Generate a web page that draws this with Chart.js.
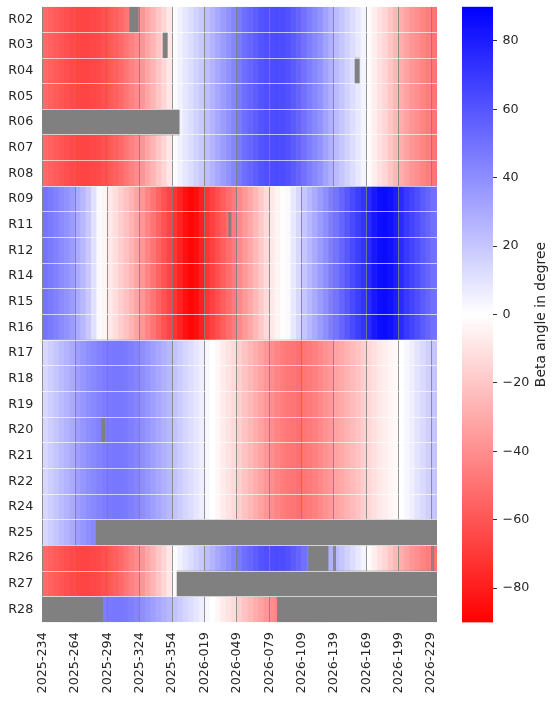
<!DOCTYPE html>
<html>
<head>
<meta charset="utf-8">
<script src="https://cdn.jsdelivr.net/npm/chart.js@4.4.1/dist/chart.umd.min.js"></script>
<style>
  body { margin: 0; background: #fff; }
  #wrap { position: relative; width: 555px; height: 703px; }
  #wrap canvas { position: absolute; left: 0; top: 0; }
</style>
</head>
<body>
<div id="wrap">
  <canvas id="heat" width="555" height="703"></canvas>
  <canvas id="cbar" width="555" height="703"></canvas>
</div>
<script>
// rows (receivers) and which beta-angle profile they follow
var rowNames = ['R02','R03','R04','R05','R06','R07','R08','R09','R11','R12','R14','R15','R16',
                'R17','R18','R19','R20','R21','R22','R24','R25','R26','R27','R28'];
var rowGroup = ['A','A','A','A','A','A','A','B','B','B','B','B','B',
                'C','C','C','C','C','C','C','C','A','A','C'];

// beta angle in degree, one value per 5 day block starting 2025-234
var groupA = [-53,-56,-58,-60,-62,-64,-65,-66,-66,-65,-64,-62,-59,-56,-53,-49,-45,-41,-37,-31,
              -26,-20,-15,-8,1,5,9,12,16,19,23,27,31,35,39,43,47,51,54,57,
              60,62,63,64,63,61,58,54,50,46,42,38,33,28,24,20,16,12,8,4,
              -1,-6,-11,-15,-20,-25,-29,-33,-37,-40,-43,-46,-49,-51];
var groupB = [49,47,44,41,38,35,30,25,19,11,2,-4,-8,-12,-17,-22,-27,-32,-37,-43,
              -49,-55,-61,-66,-72,-78,-84,-88,-85,-79,-72,-67,-62,-57,-52,-47,-42,-36,-31,-25,
              -19,-13,-8,-4,-1,2,8,14,20,25,30,35,40,45,49,54,59,64,68,72,
              76,81,85,86,84,80,75,70,66,62,58,54,50,48];
var groupC = [14,17,20,24,27,30,34,37,40,42,44,46,47,48,48,47,45,43,40,37,
              34,31,28,25,21,18,15,12,9,6,3,0,-3,-7,-10,-13,-17,-21,-25,-29,
              -33,-37,-40,-43,-46,-48,-49,-50,-49,-47,-45,-42,-39,-36,-33,-30,-27,-24,-21,-17,
              -14,-11,-8,-6,-4,-2,0,3,6,10,13,17,20,22];
var profiles = { A: groupA, B: groupB, C: groupC };
var blockDays = 5;
var totalDays = 366;

// missing data: [row, first day, end day]
var gaps = [
  ['R02', 81, 89], ['R03', 112, 116], ['R04', 290, 294], ['R06', 0, 127],
  ['R11', 173, 175], ['R20', 55, 58], ['R25', 50, 366],
  ['R26', 247, 265], ['R26', 271, 272], ['R26', 362, 363],
  ['R27', 125, 366], ['R28', 0, 56], ['R28', 218, 366]
];

var tickLabels = ['2025-234','2025-264','2025-294','2025-324','2025-354','2026-019','2026-049',
                  '2026-079','2026-109','2026-139','2026-169','2026-199','2026-229'];
var tickEvery = 30;
var cbTicks = [-80, -60, -40, -20, 0, 20, 40, 60, 80];

// matplotlib bwr, reversed so positive is blue
function bwr(v) {
    var t = Math.max(-1, Math.min(1, v / 90));
    var c;
    if (t >= 0) {
        c = Math.round(255 * (1 - t));
        return 'rgb(' + c + ',' + c + ',255)';
    }
    c = Math.round(255 * (1 + t));
    return 'rgb(255,' + c + ',' + c + ')';
}

// keep the plot box where the picture has it
function noPad(scale) {
    scale.paddingTop = 0;
    scale.paddingBottom = 0;
    scale.paddingLeft = 0;
    scale.paddingRight = 0;
}

Chart.defaults.font.family = "'DejaVu Sans', sans-serif";
Chart.defaults.font.size = 12.7;
Chart.defaults.color = '#262626';

var datasets = [];
gaps.forEach(function (g) {
    datasets.push({
        data: [{ x: [g[1], g[2]], y: g[0] }],
        backgroundColor: 'rgb(128,128,128)',
        borderWidth: 0,
        order: 0
    });
});
for (var k = 0; k * blockDays < totalDays; k++) {
    var start = k * blockDays;
    var end = Math.min(start + blockDays, totalDays);
    datasets.push({
        data: rowNames.map(function () { return [start, end]; }),
        backgroundColor: rowNames.map(function (r, i) { return bwr(profiles[rowGroup[i]][k]); }),
        borderWidth: 0,
        order: 1
    });
}

var ctx = document.getElementById('heat').getContext('2d');
var heat = new Chart(ctx, {
    type: 'bar',
    data: { labels: rowNames, datasets: datasets },
    options: {
        indexAxis: 'y',
        responsive: false,
        animation: false,
        events: [],
        layout: { padding: { top: 6.7, right: 118, bottom: 0, left: 0 } },
        datasets: { bar: { grouped: false, barPercentage: 1, categoryPercentage: 1 } },
        plugins: { legend: { display: false }, tooltip: { enabled: false } },
        scales: {
            x: {
                type: 'linear',
                min: 0,
                max: totalDays,
                afterBuildTicks: function (scale) {
                    scale.ticks = tickLabels.map(function (_, i) { return { value: i * tickEvery + 0.5 }; });
                },
                afterFit: function (scale) { scale.height = 80.7; noPad(scale); },
                ticks: {
                    autoSkip: false,
                    minRotation: 90,
                    maxRotation: 90,
                    padding: 10,
                    callback: function (v, i) { return tickLabels[i]; }
                },
                grid: { z: 1, color: 'rgba(128,128,128,0.85)', lineWidth: 1, drawTicks: false },
                border: { display: false }
            },
            y: {
                afterFit: function (scale) { scale.width = 42.2; noPad(scale); },
                ticks: { padding: 9 },
                grid: { z: 2, offset: true, color: 'rgba(255,255,255,0.65)', lineWidth: 1, drawTicks: false },
                border: { display: false }
            }
        }
    }
});

// colour bar
var cbTitle = {
    id: 'cbTitle',
    afterDraw: function (chart) {
        var c = chart.ctx;
        var a = chart.chartArea;
        c.save();
        c.translate(chart.scales.y.right - 14, (a.top + a.bottom) / 2);
        c.rotate(-Math.PI / 2);
        c.font = "13.9px 'DejaVu Sans', sans-serif";
        c.fillStyle = '#262626';
        c.textAlign = 'center';
        c.textBaseline = 'middle';
        c.fillText('Beta angle in degree', 0, 0);
        c.restore();
    }
};

var ctx2 = document.getElementById('cbar').getContext('2d');
var cbar = new Chart(ctx2, {
    type: 'bar',
    data: {
        labels: ['beta'],
        datasets: [{
            data: [[-90, 90]],
            borderWidth: 0,
            backgroundColor: function (context) {
                var chart = context.chart;
                if (!chart.chartArea) return 'white';
                var y = chart.scales.y;
                var g = chart.ctx.createLinearGradient(0, y.getPixelForValue(-90), 0, y.getPixelForValue(90));
                g.addColorStop(0, bwr(-90));
                g.addColorStop(0.5, bwr(0));
                g.addColorStop(1, bwr(90));
                return g;
            }
        }]
    },
    options: {
        responsive: false,
        animation: false,
        events: [],
        layout: { padding: { top: 6.7, right: 0, bottom: 80.6, left: 462 } },
        datasets: { bar: { barPercentage: 1, categoryPercentage: 1 } },
        plugins: { legend: { display: false }, tooltip: { enabled: false } },
        scales: {
            x: { display: false },
            y: {
                position: 'right',
                min: -90,
                max: 90,
                afterBuildTicks: function (scale) {
                    scale.ticks = cbTicks.map(function (v) { return { value: v }; });
                },
                afterFit: function (scale) { scale.width = 62; noPad(scale); },
                ticks: {
                    padding: 5.5,
                    callback: function (v) { return v < 0 ? '\u2212' + Math.abs(v) : String(v); }
                },
                grid: { drawOnChartArea: false, drawTicks: true, tickLength: 4, color: '#333', lineWidth: 1 },
                border: { display: false }
            }
        }
    },
    plugins: [cbTitle]
});
</script>
</body>
</html>
